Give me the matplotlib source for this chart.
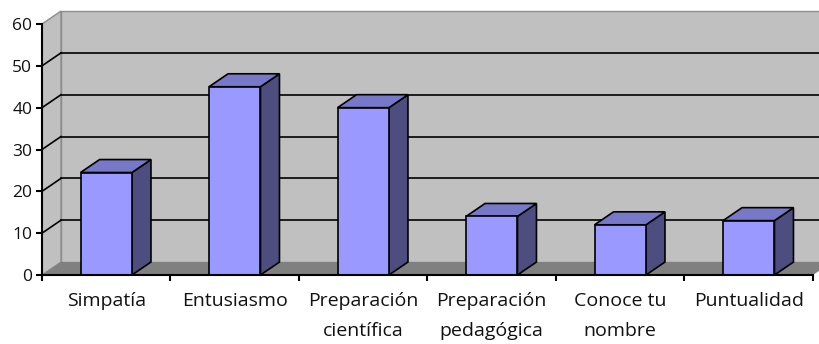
import matplotlib.pyplot as plt
from matplotlib.patches import Polygon, Rectangle

categorias = ["Simpatía", "Entusiasmo", "Preparación\ncientífica",
              "Preparación\npedagógica", "Conoce tu\nnombre", "Puntualidad"]
valores = [24.5, 45, 40, 14, 12, 13]
yticks = [0, 10, 20, 30, 40, 50, 60]

plt.rcParams['font.family'] = ['Open Sans', 'DejaVu Sans']

fig = plt.figure(figsize=(8.2, 3.44), dpi=100)
ax = fig.add_axes([42/820, 69/344, 771/820, 251/344])
ax.set_xlim(-0.5, 5.5)
ax.set_ylim(0, 60)

# depth offset of the 3D look (data units)
dx, dy = 0.148, 3.1
x0, x1 = -0.5, len(categorias) - 0.5
ymax = yticks[-1]

# ---------------- WALLS / FLOOR ----------------
ax.add_patch(Rectangle((x0 + dx, dy), x1 - x0, ymax, facecolor="#c0c0c0",
                       edgecolor="#8c8c8c", lw=1, clip_on=False, zorder=0))
ax.add_patch(Polygon([(x0, 0), (x0 + dx, dy), (x0 + dx, ymax + dy), (x0, ymax)],
                     closed=True, facecolor="#c0c0c0", edgecolor="#8c8c8c",
                     lw=1, clip_on=False, zorder=0.5))
ax.add_patch(Polygon([(x0, 0), (x1, 0), (x1 + dx, dy), (x0 + dx, dy)],
                     closed=True, facecolor="#808080", edgecolor="none",
                     clip_on=False, zorder=1))

# ---------------- GRIDLINES ----------------
for v in yticks[1:-1]:
    ax.plot([x0 + dx, x1 + dx], [v + dy, v + dy], color="black", lw=1.2,
            clip_on=False, zorder=1.5)
    ax.plot([x0, x0 + dx], [v, v + dy], color="black", lw=1.2,
            clip_on=False, zorder=1.5)

# ---------------- BARS ----------------
w = 0.2
for i, v in enumerate(valores):
    side = [(i + w, 0), (i + w + dx, dy), (i + w + dx, v + dy), (i + w, v)]
    top = [(i - w, v), (i + w, v), (i + w + dx, v + dy), (i - w + dx, v + dy)]
    ax.add_patch(Polygon(side, closed=True, facecolor="#4d4d80",
                         edgecolor="black", lw=1.2, clip_on=False, zorder=3))
    ax.add_patch(Polygon(top, closed=True, facecolor="#7878c8",
                         edgecolor="black", lw=1.2, clip_on=False, zorder=3))
    ax.add_patch(Rectangle((i - w, 0), 2 * w, v, facecolor="#9999ff",
                           edgecolor="black", lw=1.2, clip_on=False, zorder=4))

# ---------------- AXES ----------------
for s in ["top", "right"]:
    ax.spines[s].set_visible(False)
ax.spines["left"].set_linewidth(1.5)
ax.spines["bottom"].set_linewidth(1.5)
ax.spines["left"].set_zorder(5)
ax.spines["bottom"].set_zorder(5)
ax.patch.set_visible(False)

ax.set_yticks(yticks)
ax.set_yticklabels([str(t) for t in yticks], fontsize=12.5, color="#111111")
ax.tick_params(axis="y", direction="out", length=4, width=1.5, pad=3)

ax.set_xticks(range(len(categorias)))
ax.set_xticklabels(categorias, fontsize=14, linespacing=1.85, va="top",
                   color="#111111")
ax.set_xticks([i + 0.5 for i in range(-1, len(categorias))], minor=True)
ax.tick_params(axis="x", which="major", length=0, pad=12)
ax.tick_params(axis="x", which="minor", direction="out", length=4, width=1.5)

fig.savefig("out.png", dpi=100)
